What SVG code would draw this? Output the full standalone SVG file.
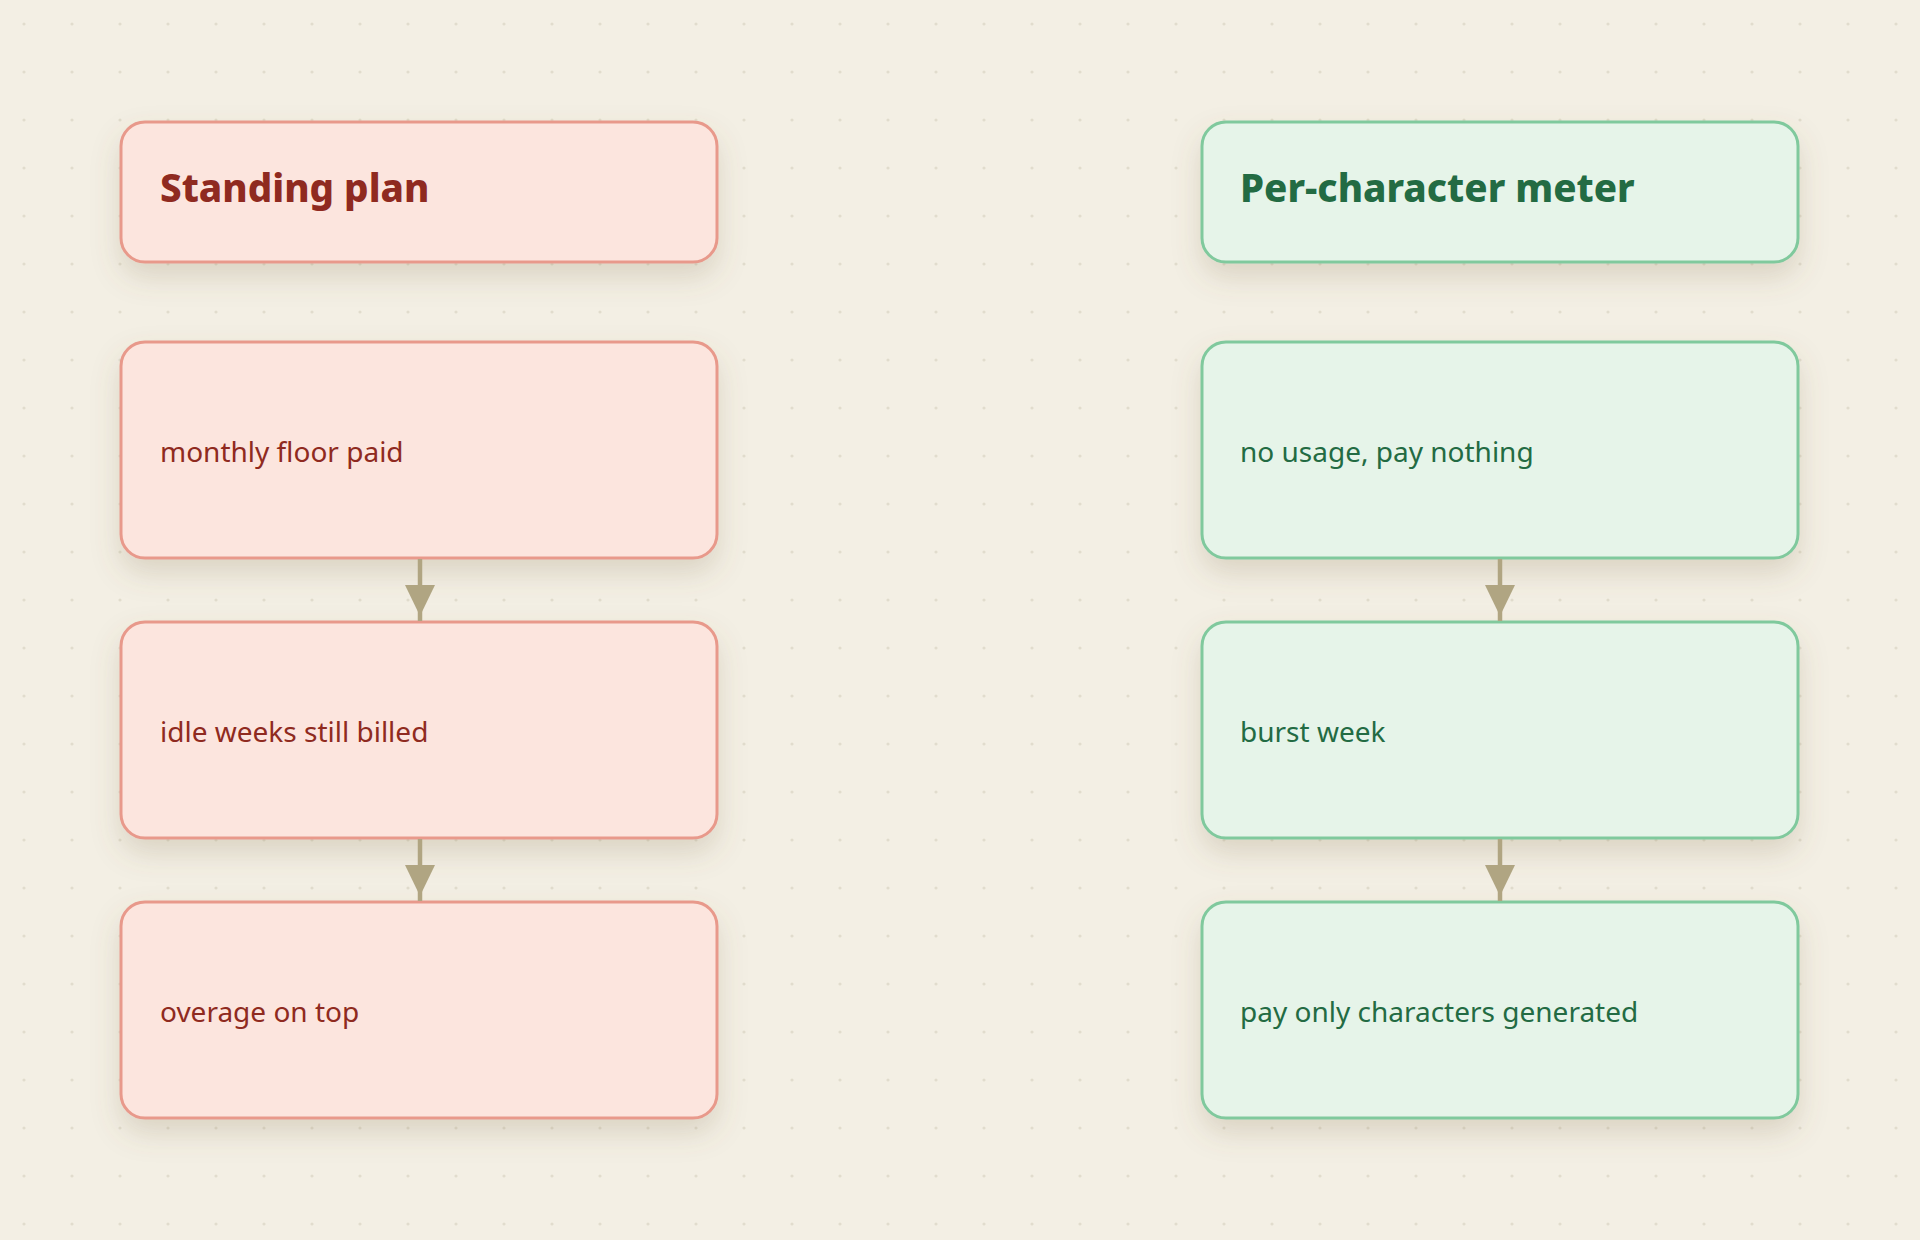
<svg xmlns="http://www.w3.org/2000/svg" width="1920" height="1240" viewBox="0 0 1920 1240">
<defs>
<pattern id="dots" x="0" y="0" width="48" height="48" patternUnits="userSpaceOnUse">
<circle cx="24" cy="24" r="1.6" fill="#e1dccd"/>
</pattern>
<filter id="shadow" x="-20%" y="-30%" width="140%" height="180%">
<feDropShadow dx="0" dy="14" stdDeviation="14" flood-color="#7a6a40" flood-opacity="0.2"/>
</filter>
</defs>
<style>
.red rect{fill:#fce5de;stroke:#e8998b;stroke-width:3;filter:url(#shadow)}
.green rect{fill:#e6f4e9;stroke:#80c99d;stroke-width:3;filter:url(#shadow)}
.red text{fill:#8f2a20}
.green text{fill:#236b43}
.title{font-family:"Noto Sans","Open Sans",sans-serif;font-weight:800;font-size:38.5px}
.body{font-family:"Noto Sans","Open Sans",sans-serif;font-size:28px}
.conn line{stroke:#b0a582;stroke-width:4.5}
.conn polygon{fill:#b0a582}
</style>
<rect width="1920" height="1240" fill="#f3efe4"/>
<rect width="1920" height="1240" fill="url(#dots)"/>

<g id="standing-plan" class="red">
<rect x="121" y="122" width="596" height="140" rx="24"/>
<text class="title" x="160" y="202">Standing plan</text>
</g>
<g id="monthly-floor" class="red">
<rect x="121" y="342" width="596" height="216" rx="24"/>
<text class="body" x="160" y="462">monthly floor paid</text>
</g>
<g id="idle-weeks" class="red">
<rect x="121" y="622" width="596" height="216" rx="24"/>
<text class="body" x="160" y="742">idle weeks still billed</text>
</g>
<g id="overage" class="red">
<rect x="121" y="902" width="596" height="216" rx="24"/>
<text class="body" x="160" y="1022">overage on top</text>
</g>

<g id="per-character" class="green">
<rect x="1202" y="122" width="596" height="140" rx="24"/>
<text class="title" x="1240" y="202">Per-character meter</text>
</g>
<g id="no-usage" class="green">
<rect x="1202" y="342" width="596" height="216" rx="24"/>
<text class="body" x="1240" y="462">no usage, pay nothing</text>
</g>
<g id="burst-week" class="green">
<rect x="1202" y="622" width="596" height="216" rx="24"/>
<text class="body" x="1240" y="742">burst week</text>
</g>
<g id="pay-only" class="green">
<rect x="1202" y="902" width="596" height="216" rx="24"/>
<text class="body" x="1240" y="1022">pay only characters generated</text>
</g>

<g id="connectors" class="conn">
<line x1="420" y1="559" x2="420" y2="621"/>
<polygon points="405,585 435,585 420,616"/>
<line x1="420" y1="839" x2="420" y2="901"/>
<polygon points="405,865 435,865 420,896"/>
<line x1="1500" y1="559" x2="1500" y2="621"/>
<polygon points="1485,585 1515,585 1500,616"/>
<line x1="1500" y1="839" x2="1500" y2="901"/>
<polygon points="1485,865 1515,865 1500,896"/>
</g>
</svg>
